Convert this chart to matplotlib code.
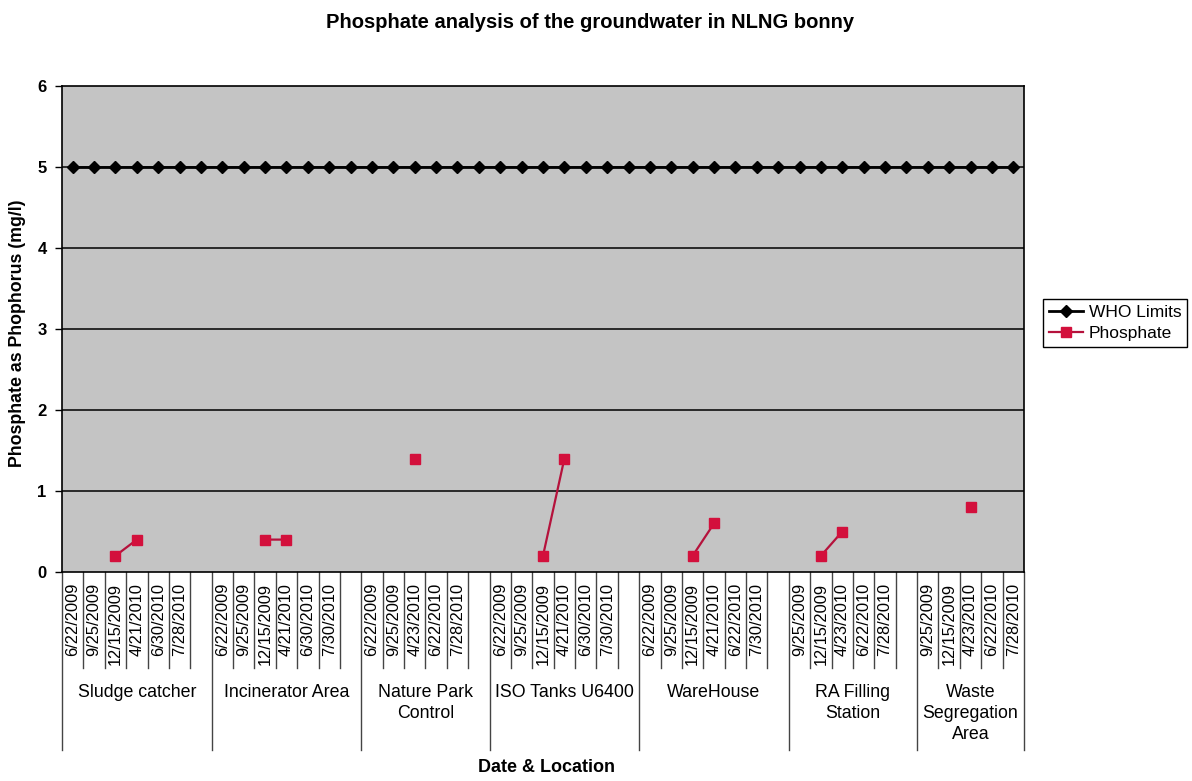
import matplotlib
matplotlib.use("Agg")
import matplotlib.pyplot as plt
import matplotlib.transforms as mtransforms
import numpy as np

plt.rcParams['font.family'] = ['Liberation Sans', 'DejaVu Sans']

# ---- data ----
groups = ["Sludge catcher", "Incinerator Area", "Nature Park\nControl",
          "ISO Tanks U6400", "WareHouse", "RA Filling\nStation",
          "Waste\nSegregation\nArea"]

dates_sludge = ["6/22/2009", "9/25/2009", "12/15/2009", "4/21/2010", "6/30/2010", "7/28/2010", ""]
dates_incin = ["6/22/2009", "9/25/2009", "12/15/2009", "4/21/2010", "6/30/2010", "7/30/2010", ""]
dates_park = ["6/22/2009", "9/25/2009", "4/23/2010", "6/22/2010", "7/28/2010", ""]
dates_iso = ["6/22/2009", "9/25/2009", "12/15/2009", "4/21/2010", "6/30/2010", "7/30/2010", ""]
dates_ware = ["6/22/2009", "9/25/2009", "12/15/2009", "4/21/2010", "6/22/2010", "7/30/2010", ""]
dates_ra = ["9/25/2009", "12/15/2009", "4/23/2010", "6/22/2010", "7/28/2010", ""]
dates_waste = ["9/25/2009", "12/15/2009", "4/23/2010", "6/22/2010", "7/28/2010"]

nan = np.nan
phos_sludge = [nan, nan, 0.2, 0.4, nan, nan, nan]
phos_incin = [nan, nan, 0.4, 0.4, nan, nan, nan]
phos_park = [nan, nan, 1.4, nan, nan, nan]
phos_iso = [nan, nan, 0.2, 1.4, nan, nan, nan]
phos_ware = [nan, nan, 0.2, 0.6, nan, nan, nan]
phos_ra = [nan, 0.2, 0.5, nan, nan, nan]
phos_waste = [nan, nan, 0.8, nan, nan]

who_limit = 5

date_groups = [dates_sludge, dates_incin, dates_park, dates_iso, dates_ware, dates_ra, dates_waste]
phos_groups = [phos_sludge, phos_incin, phos_park, phos_iso, phos_ware, phos_ra, phos_waste]

dates = [d for g in date_groups for d in g]
phosphate = np.array([v for g in phos_groups for v in g], dtype=float)
n = len(dates)
x = np.arange(n)
who = np.full(n, who_limit, dtype=float)

# ---- figure ----
fig = plt.figure(figsize=(11.92, 7.81), dpi=100)
L, R, T, B = 62, 1024, 86, 572
ax = fig.add_axes([L / 1192, 1 - B / 781, (R - L) / 1192, (B - T) / 781])
ax.set_facecolor('#c4c4c4')

for yv in range(1, 6):
    ax.axhline(yv, color='black', lw=1.1, zorder=1)

ax.plot(x, who, color='black', lw=2, marker='D', ms=6, mfc='black', mec='black',
        label='WHO Limits', zorder=3)
ax.plot(x, phosphate, color='#b5123c', lw=1.6, marker='s', ms=7, mfc='#d3103c',
        mec='#d3103c', label='Phosphate', zorder=4)

ax.set_xlim(-0.5, n - 0.5)
ax.set_ylim(0, 6)
ax.set_yticks(range(0, 7))
ax.tick_params(axis='y', labelsize=12, length=5, width=1, pad=6)
for lab in ax.get_yticklabels():
    lab.set_fontweight('bold')
ax.set_xticks(x)
ax.set_xticklabels(dates, rotation=90, fontsize=11.8)
ax.tick_params(axis='x', length=0, pad=8)
for s in ax.spines.values():
    s.set_color('black')
    s.set_linewidth(1.2)

# category boundary lines below axis
trans = mtransforms.blended_transform_factory(ax.transData, ax.transAxes)
group_edges = [-0.5]
pos = -0.5
for g in date_groups:
    pos += len(g)
    group_edges.append(pos)
for b in np.arange(-0.5, n, 1.0):
    is_group = any(abs(b - e) < 1e-6 for e in group_edges)
    y_end = -0.366 if is_group else -0.198
    ax.plot([b, b], [0, y_end], color='#444444', lw=1.0, transform=trans, clip_on=False)

# group labels
for i, g in enumerate(groups):
    c = (group_edges[i] + group_edges[i + 1]) / 2
    ax.text(c, -0.230, g, transform=trans, ha='center', va='top', fontsize=12.8,
            linespacing=1.3)

fig.text(590 / 1192, 1 - 22 / 781, "Phosphate analysis of the groundwater in NLNG bonny",
         ha='center', va='center', fontsize=14.5, fontweight='bold')
fig.text(546 / 1192, 1 - 768 / 781, "Date & Location", ha='center', va='center',
         fontsize=13, fontweight='bold')
fig.text(18 / 1192, 1 - 333 / 781, "Phosphate as Phophorus (mg/l)", ha='center', va='center',
         rotation=90, fontsize=12.8, fontweight='bold')

fig.legend(loc='upper left', bbox_to_anchor=(1034 / 1192, 1 - 290 / 781),
           frameon=True, fancybox=False, edgecolor='black', framealpha=1,
           fontsize=12.5, handlelength=2.0, borderpad=0.35, labelspacing=0.35,
           handletextpad=0.3)

fig.savefig('out.png', dpi=100)
